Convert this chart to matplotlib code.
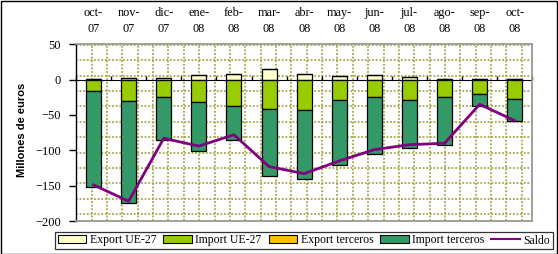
import matplotlib.pyplot as plt
from matplotlib.patches import Rectangle
from matplotlib.lines import Line2D
from matplotlib.transforms import blended_transform_factory

months = ["oct-\n07", "nov-\n07", "dic-\n07", "ene-\n08", "feb-\n08", "mar-\n08", "abr-\n08",
          "may-\n08", "jun-\n08", "jul-\n08", "ago-\n08", "sep-\n08", "oct-\n08"]
export_ue = [1.5, 2.5, 2, 6, 7.5, 14.5, 7.5, 5, 6, 4, 1.5, 1, 1]
export_terceros = [0, 0, 0, 0, 0, 0, 0, 0, 0.5, 0, 0, 0, 0]
import_ue = [-16, -30, -25, -31, -38, -42, -43, -28.5, -25, -29.5, -25, -21, -27]
import_terceros = [-136, -145, -60.5, -69.5, -47.5, -95, -97, -92.5, -80.5, -67, -67, -16, -32]
saldo = [-149, -172, -83, -94, -78, -123, -133, -115, -99, -92, -90, -35, -58]

c_exp_ue = "#FFFFCC"
c_imp_ue = "#99CC00"
c_exp_t = "#FFC000"
c_imp_t = "#339966"
c_saldo = "#800080"
serif = "Liberation Serif"

fig = plt.figure(figsize=(5.58, 2.54), dpi=100)
W, H = 558.0, 254.0
left, right, top, bottom = 76.0, 532.3, 44.3, 221.0
ax = fig.add_axes([left / W, 1 - bottom / H, (right - left) / W, (bottom - top) / H])

# dotted background pattern of the plot area (Excel fill)
step = 15.36
grid_kw = dict(color="#a6a64a", lw=1.3, linestyle=(0, (1, 1)), zorder=0)
x = left + 0.3 + step
while x < right - 1:
    ax.plot([(x - left) / (right - left)] * 2, [0, 1], transform=ax.transAxes, **grid_kw)
    x += step
y = 45.0
while y < bottom - 1:
    ax.plot([0, 1], [(bottom - y) / (bottom - top)] * 2, transform=ax.transAxes, **grid_kw)
    y += step

pos = list(range(len(months)))
bw = 0.43
edge = dict(edgecolor="black", linewidth=0.9, zorder=2)
ax.bar(pos, export_ue, bw, color=c_exp_ue, label="Export UE-27", **edge)
ax.bar(pos, import_ue, bw, color=c_imp_ue, label="Import UE-27", **edge)
ax.bar(pos, export_terceros, bw, bottom=export_ue, color=c_exp_t, label="Export terceros", **edge)
ax.bar(pos, import_terceros, bw, bottom=import_ue, color=c_imp_t, label="Import terceros", **edge)
ax.plot(pos, saldo, color=c_saldo, lw=2, zorder=3, label="Saldo")

ax.set_xlim(-0.5, len(months) - 0.5)
ax.set_ylim(-200, 50)
ax.set_yticks([50, 0, -50, -100, -150, -200])
ax.tick_params(axis="y", direction="out", length=5, width=1, pad=6, labelsize=9)
for t in ax.get_yticklabels():
    t.set_fontfamily(serif)

# month labels in a row above the plot, centred on the bars
ax.set_xticks([])
trans = blended_transform_factory(ax.transData, ax.transAxes)
for i, m in enumerate(months):
    ax.text(i, (bottom - 21) / (bottom - top), m, transform=trans, ha="center", va="center",
            fontfamily=serif, fontsize=8.8, linespacing=1.45)

# zero line with category boundary ticks
sec = ax.secondary_xaxis(0.8)
sec.set_xticks([p - 0.5 for p in pos] + [len(months) - 0.5])
sec.set_xticklabels([])
sec.tick_params(direction="out", length=3, width=1)
sec.spines["bottom"].set_linewidth(1)

ax.spines["left"].set_linewidth(1)
for s in ("top", "right", "bottom"):
    ax.spines[s].set_color("#999999")
    ax.spines[s].set_linewidth(1.3)

fig.text(22.5 / W, 1 - 130 / H, "Millones de euros", rotation=90, ha="center", va="center",
         fontfamily="Liberation Sans", fontweight="bold", fontsize=8)

handles = [Rectangle((0, 0), 1, 1, facecolor=c, edgecolor="black", linewidth=0.8)
           for c in (c_exp_ue, c_imp_ue, c_exp_t, c_imp_t)]
handles.append(Line2D([], [], color=c_saldo, lw=1.5))
labels = ["Export UE-27", "Import UE-27", "Export terceros", "Import terceros", "Saldo"]
leg = fig.legend(handles, labels, loc="center", bbox_to_anchor=(304 / W, 1 - 240.5 / H), ncol=5,
                 frameon=True, fancybox=False, prop={"family": serif, "size": 8.5},
                 handlelength=2.4, handleheight=0.65, handletextpad=0.3, columnspacing=0.6,
                 borderpad=0.25, borderaxespad=0)
leg.get_frame().set_edgecolor("black")
leg.get_frame().set_linewidth(0.9)

fig.patches.append(Rectangle((0.5 / W, 0.5 / H), 1 - 1.5 / W, 1 - 1.5 / H, transform=fig.transFigure,
                             fill=False, edgecolor="black", linewidth=1))

fig.savefig("out.png", dpi=100)
